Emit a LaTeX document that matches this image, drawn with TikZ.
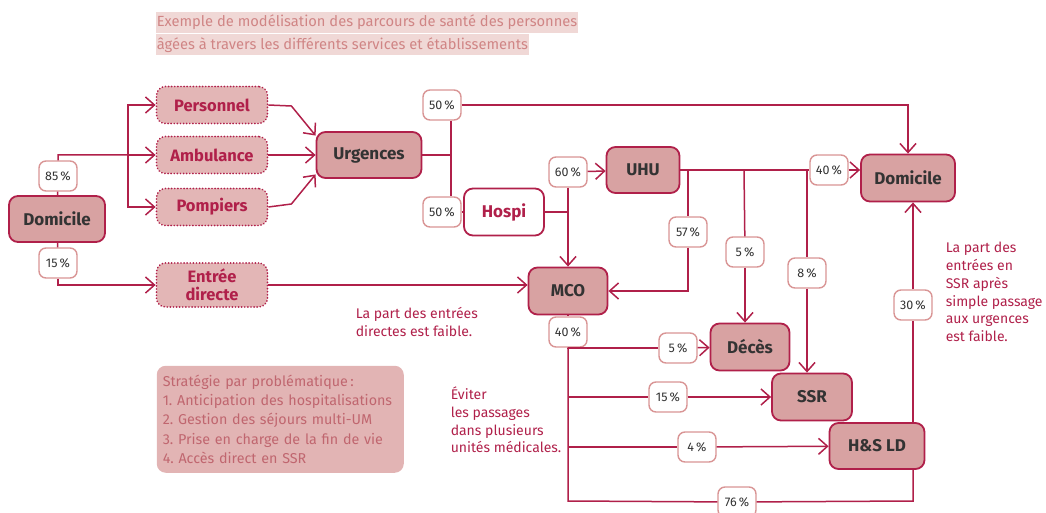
\documentclass[tikz,border=0pt]{standalone}
\usepackage{fontspec}
\setmainfont{Fira Sans}
\usepackage{tikz}
\usetikzlibrary{arrows.meta,positioning}

\definecolor{crimson}{HTML}{B0204A}
\definecolor{etabfill}{HTML}{D8A2A2}
\definecolor{modefill}{HTML}{E3B6B6}
\definecolor{pctborder}{HTML}{D99595}
\definecolor{pcttext}{HTML}{333333}
\definecolor{titrebg}{HTML}{F0D8D6}
\definecolor{titretext}{HTML}{D08585}
\definecolor{stratfill}{HTML}{E2B4B4}
\definecolor{strattext}{HTML}{C0666F}

\frenchspacing
\begin{document}
\begin{tikzpicture}[x=1pt,y=-1pt,>={Straight Barb[length=9pt,width=16pt]},
                    line width=1.5pt,draw=crimson]
\tikzstyle{etab}=[draw=crimson,fill=etabfill,line width=1.8pt,rounded corners=9pt,
                  text=pcttext,font=\fontsize{17}{19}\selectfont\bfseries,minimum height=46pt,inner sep=0pt]
\tikzstyle{mode}=[etab,fill=modefill,text=crimson,dash pattern=on 0.1pt off 3pt,line cap=round,
                  minimum width=111pt,minimum height=37pt,align=center,
                  font=\fontsize{16.5}{18.5}\selectfont\bfseries]
\tikzstyle{pct}=[draw=pctborder,fill=white,line width=1.4pt,rounded corners=7pt,inner sep=0pt,
                 minimum width=38pt,minimum height=30pt,text=pcttext,font=\fontsize{12.5}{14}\selectfont]
\tikzstyle{note}=[text=crimson,align=left,anchor=west,inner sep=0pt,font=\fontsize{14}{17.7}\selectfont]
\tikzstyle{titre}=[fill=titrebg,text=titretext,anchor=north west,inner xsep=1pt,inner ysep=0pt,
                   minimum height=21pt,font=\fontsize{14.7}{16}\selectfont]

\useasboundingbox (0,0) rectangle (1046,513);

        % titre
        \node[titre]                        (titre1) at (155,11)   {Exemple de modélisation des parcours de santé des personnes};
        \node[titre, below=0pt of titre1.south west, anchor=north west] (titre2) {âgées à travers les différents services et établissements};

        % etablissements
        \node[etab, minimum width=96pt]     (domL)   at (57,219)   {Domicile};
        \node[etab, minimum width=105pt]    (urg)    at (369,155)  {Urgences};
        \node[etab, minimum width=80pt, fill=white, text=crimson, minimum height=47pt] (hospi) at (504,212) {Hospi};
        \node[etab, minimum width=73pt]     (uhu)    at (643,170)  {UHU};
        \node[etab, minimum width=79pt, minimum height=47pt] (mco) at (568,291) {MCO};
        \node[etab, minimum width=94pt, minimum height=47pt] (domR) at (908,178) {Domicile};
        \node[etab, minimum width=79pt, minimum height=47pt] (deces) at (750,347) {Décès};
        \node[etab, minimum width=80pt, minimum height=47pt] (ssr) at (812,397) {SSR};
        \node[etab, minimum width=95pt]     (hsld)   at (877,446)  {H\&S LD};

        % modes d'arrivee
        \node[mode]                         (pers)   at (212,105)  {Personnel};
        \node[mode]                         (amb)    at (212,155)  {Ambulance};
        \node[mode]                         (pomp)   at (212,207)  {Pompiers};
        \node[mode, minimum height=44pt, font=\fontsize{16.5}{18}\selectfont\bfseries] (entree) at (212,285) {Entrée\\directe};

        % pourcentages
        \node[pct] (p85)  at (58,176)  {85\,\%};
        \node[pct] (p15)  at (58,263)  {15\,\%};
        \node[pct] (p50a) at (442,105) {50\,\%};
        \node[pct] (p50b) at (442,212) {50\,\%};
        \node[pct] (p60)  at (568,172) {60\,\%};
        \node[pct] (p57)  at (688,232) {57\,\%};
        \node[pct] (p5a)  at (745,252) {5\,\%};
        \node[pct] (p8)   at (807,273) {8\,\%};
        \node[pct] (p40a) at (829,170) {40\,\%};
        \node[pct] (p30)  at (913,305) {30\,\%};
        \node[pct] (p40b) at (568,332) {40\,\%};
        \node[pct] (p5b)  at (678,348) {5\,\%};
        \node[pct] (p15b) at (668,397) {15\,\%};
        \node[pct] (p4)   at (697,447) {4\,\%};
        \node[pct] (p76)  at (737,502) {76\,\%};

        % notes
        \node[note] (note1) at (355,322) {La part des entrées\\directes est faible.};
        \node[note] (note2) at (450,420) {Éviter\\les passages\\dans plusieurs\\unités médicales.};
        \node[note] (note3) at (945,292) {La part des\\entrées en\\SSR après\\simple passage\\aux urgences\\est faible.};
        \node[fill=stratfill, text=strattext, rounded corners=9pt, anchor=north west, align=left,
              minimum width=247pt, minimum height=107pt, text width=235pt, inner xsep=6pt,
              font=\fontsize{14.3}{19.3}\selectfont] (strat) at (156,365)
              {Stratégie par problématique\,:\\1. Anticipation des hospitalisations\\2. Gestion des séjours multi-UM\\3. Prise en charge de la fin de vie\\4. Accès direct en SSR};

        % jonctions
        \coordinate (jA) at (128,155);
        \coordinate (jB) at (451,155);
        \coordinate (jC) at (688,170);
        \coordinate (jD) at (744,170);
        \coordinate (jE) at (807,170);
        \coordinate (jF) at (568,501);
        \coordinate (jG) at (913,501);
        \coordinate (jH) at (568,397);
        \coordinate (jI) at (568,447);

        \draw[crimson] (domL) -- (p85) |- (jA);
        \draw[crimson,->] (jA) |- (pers);
        \draw[crimson,->] (jA) -- (amb);
        \draw[crimson,->] (jA) |- (pomp);
        \draw[crimson] (domL) -- (p15);
        \draw[crimson,->] (p15) |- (entree);

        \draw[crimson,->] (pers.east) -- ++(23,1) -- (urg.160);
        \draw[crimson,->] (amb) -- (urg);
        \draw[crimson,->] (pomp.east) -- ++(23,-3) -- (urg.200);

        \draw[crimson] (urg) -- (jB);
        \draw[crimson] (p50a.south -| jB) -- (p50b.north -| jB);
        \draw[crimson,->] (p50a) -| (domR);
        \draw[crimson] (p50b) -- (hospi);
        \draw[crimson] (hospi) -- (hospi -| p60);

        \draw[crimson,->] (p60) -- (uhu);
        \draw[crimson,->] (p60) -- (mco);
        \draw[crimson] (uhu) -- (p40a);
        \draw[crimson,->] (p40a) -- (p40a -| domR.west);
        \draw[crimson] (jC) -- (p57);
        \draw[crimson,->] (p57) |- (mco);
        \draw[crimson] (jD) -- (p5a);
        \draw[crimson,->] (p5a) -- (p5a |- deces.north);
        \draw[crimson] (jE) -- (p8);
        \draw[crimson,->] (p8) -- (p8 |- ssr.north);

        \draw[crimson,->] (entree.east) -- (entree.east -| mco.west);

        \draw[crimson] (mco) -- (p40b);
        \draw[crimson] (p40b) -- (jF) -- (p76) -- (jG) -- (jG |- hsld.south);
        \draw[crimson] (p40b.south) |- (p5b);
        \draw[crimson,->] (p5b) -- (deces);
        \draw[crimson] (jH) -- (p15b);
        \draw[crimson,->] (p15b) -- (ssr);
        \draw[crimson] (jI) -- (p4);
        \draw[crimson,->] (p4) -- (hsld);
        \draw[crimson] (hsld.north -| p30) -- (p30);
        \draw[crimson,->] (p30) -- (p30 |- domR.south);

\end{tikzpicture}
\end{document}
